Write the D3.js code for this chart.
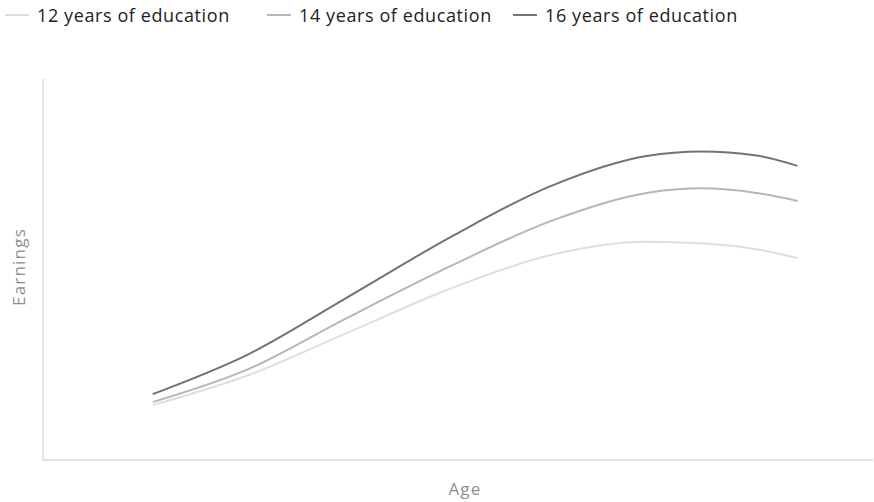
<!DOCTYPE html>
<html><head><meta charset="utf-8">
<script src="https://cdn.jsdelivr.net/npm/d3@7"></script>
<style>body{margin:0;background:#fff}svg{display:block}</style>
</head><body><svg id="c" width="874" height="502"></svg>
<script>
const seriesNames = ["12 years of education", "14 years of education", "16 years of education"];
const seriesColors = ["#dcdfe2", "#b3b7bb", "#707377"];
const ages = [18, 25, 32, 40, 47, 54, 58, 62, 65];
const earn12 = [14.4, 22.3, 33.1, 45.4, 53.8, 57.3, 56.9, 55.3, 53.0];
const earn14 = [15.2, 23.9, 37.0, 51.4, 62.7, 70.1, 71.3, 70.1, 68.0];
const earn16 = [17.3, 27.8, 42.3, 59.1, 71.9, 79.8, 81.0, 79.9, 77.2];
const xLabel = "Age", yLabel = "Earnings";

const svg = d3.select("#c");
const m = {l: 43, r: 1, t: 79, b: 42};
const W = 874, H = 502;
const x = d3.scaleLinear().domain([10, 70.5]).range([m.l, W - m.r]);
const y = d3.scaleLinear().domain([0, 100]).range([H - m.b, m.t]);

const axisColor = "#d6d9dc";
svg.append("line").attr("x1", x(10)).attr("x2", x(10)).attr("y1", y(100)).attr("y2", y(0))
  .attr("stroke", axisColor).attr("stroke-width", 1.5);
svg.append("line").attr("x1", x(10)).attr("x2", x(70.5)).attr("y1", y(0)).attr("y2", y(0))
  .attr("stroke", axisColor).attr("stroke-width", 1.5);

const series = [earn12, earn14, earn16];
const line = d3.line().x((d, i) => x(ages[i])).y(d => y(d)).curve(d3.curveMonotoneX);
series.forEach((s, k) => {
  svg.append("path").datum(s).attr("d", line).attr("fill", "none")
    .attr("stroke", seriesColors[k]).attr("stroke-width", 2);
});

const font = "'Open Sans', sans-serif";
svg.append("text").attr("x", 465).attr("y", 495).attr("text-anchor", "middle")
  .attr("font-family", font).attr("font-size", 17).attr("letter-spacing", 1.2)
  .attr("fill", "#8c8f92").text(xLabel);
svg.append("text").attr("transform", `translate(25,267) rotate(-90)`)
  .attr("text-anchor", "middle").attr("font-family", font).attr("font-size", 17)
  .attr("letter-spacing", 1.2).attr("fill", "#8c8f92").text(yLabel);

const legX = [5, 267, 513];
seriesNames.forEach((n, k) => {
  const g = svg.append("g").attr("transform", `translate(${legX[k]},15)`);
  g.append("line").attr("x1", 0).attr("x2", 24).attr("y1", 0).attr("y2", 0)
    .attr("stroke", seriesColors[k]).attr("stroke-width", 2);
  g.append("text").attr("x", 32).attr("y", 6.5).attr("font-family", font).attr("font-size", 18)
    .attr("letter-spacing", 0.6).attr("fill", "#222").text(n);
});
</script></body></html>
